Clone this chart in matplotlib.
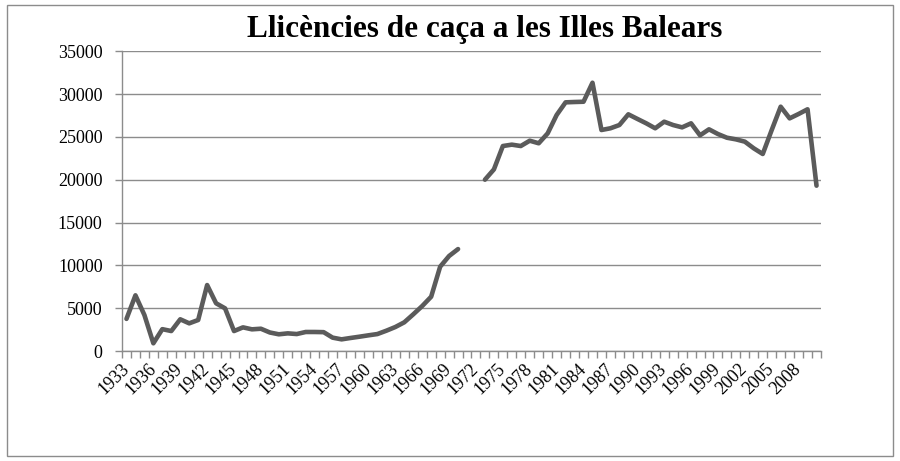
import numpy as np
import matplotlib
matplotlib.use("Agg")
import matplotlib.pyplot as plt
from matplotlib.patches import Rectangle

title = "Llicències de caça a les Illes Balears"
years = list(range(1933, 2011))
licences = [
    3750, 6500, 4200, 900, 2550, 2330, 3700, 3230, 3620, 7700,
    5570, 4980, 2330, 2760, 2530, 2600, 2160, 1950, 2060, 1980,
    2220, 2220, 2200, 1560, 1360, 1520, 1670, 1830, 1980, 2370,
    2800, 3350, 4280, 5250, 6340, 9840, 11090, 11900, None, None,
    20000, 21200, 23930, 24090, 23930, 24550, 24250, 25410, 27550, 29030,
    29070, 29100, 31320, 25800, 26000, 26380, 27630, 27100, 26580, 26000,
    26770, 26380, 26110, 26580, 25180, 25880, 25330, 24900, 24710, 24440,
    23660, 23000, 25800, 28520, 27160, 27670, 28220, 19300,
]
yticks = [0, 5000, 10000, 15000, 20000, 25000, 30000, 35000]
label_years = list(range(1933, 2009, 3))

vals = np.array([np.nan if v is None else v for v in licences], dtype=float)
idx = np.arange(len(years))

fig = plt.figure(figsize=(9, 4.61), dpi=100)
ax = fig.add_axes([122/900, 1-351/461, (821-122)/900, (351-51.2)/461])

grid_c = "#8c8c8c"
ax.plot(idx, vals, color="#5b5b5b", lw=3.3, solid_joinstyle="round",
        solid_capstyle="round", zorder=3)

ax.set_xlim(-0.5, len(years) - 0.5)
ax.set_ylim(0, 35000)
ax.set_yticks(yticks)
ax.set_yticklabels([str(v) for v in yticks], family="Liberation Serif", fontsize=13)
ax.yaxis.grid(True, color=grid_c, lw=1.0)
ax.set_axisbelow(True)

ax.set_xticks(np.arange(len(years) + 1) - 0.5, minor=True)
lab_idx = [years.index(y) for y in label_years]
ax.set_xticks(lab_idx)
ax.set_xticklabels([str(y) for y in label_years], rotation=45, ha="right",
                   va="center", rotation_mode="anchor",
                   family="Liberation Serif", fontsize=13)
ax.tick_params(axis="x", which="major", length=0, pad=11)
ax.tick_params(axis="x", which="minor", length=5, color=grid_c, width=1)
ax.tick_params(axis="y", length=5, color=grid_c, width=1, pad=9)

for s in ["top", "right"]:
    ax.spines[s].set_visible(False)
for s in ["left", "bottom"]:
    ax.spines[s].set_color(grid_c)
    ax.spines[s].set_linewidth(1.0)

fig.text(0.538, 1 - 30/461, title, ha="center", va="center",
         family="Liberation Serif", fontweight="bold", fontsize=22.5)

fig.patches.append(Rectangle((7/900, 1-456/461), (893-7)/900, (456-5)/461,
                             transform=fig.transFigure, fill=False,
                             edgecolor="#8c8c8c", lw=1.0))

fig.savefig("out.png", dpi=100)
